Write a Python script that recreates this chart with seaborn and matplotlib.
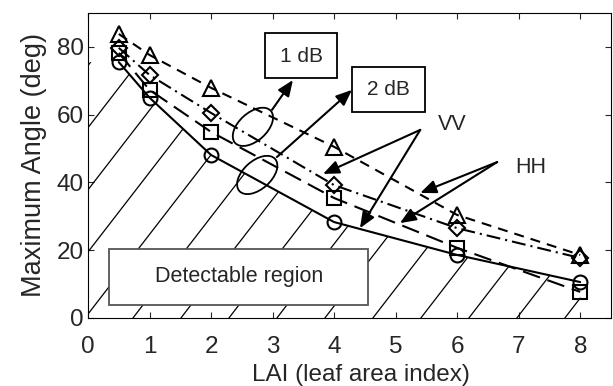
import numpy as np
import pandas as pd
import matplotlib
matplotlib.use("Agg")
import matplotlib.pyplot as plt
import matplotlib.transforms as mtransforms
from matplotlib.patches import Ellipse, Rectangle, Polygon
import seaborn as sns

# data
lai = [0.5, 1, 2, 4, 6, 8]
circle_vals = [75.5, 65.0, 48.1, 28.3, 18.6, 10.6]     # solid
square_vals = [78.2, 67.3, 54.9, 35.4, 20.7, 7.7]      # long dash
diamond_vals = [79.7, 71.7, 60.5, 39.2, 26.5, 17.7]    # dash-dot
triangle_vals = [83.8, 77.6, 67.9, 50.5, 30.4, 18.6]   # short dash
series_names = ["circle", "square", "diamond", "triangle"]
x_ticks = [0, 1, 2, 3, 4, 5, 6, 7, 8]
y_ticks = [0, 20, 40, 60, 80]

sns.set_theme(style="ticks")
plt.rcParams['font.family'] = ['Liberation Sans', 'DejaVu Sans']

df = pd.DataFrame({
    "LAI": lai * 4,
    "angle": circle_vals + square_vals + diamond_vals + triangle_vals,
    "series": sum([[n] * len(lai) for n in series_names], []),
})

fig = plt.figure(figsize=(6.13, 3.86), dpi=100)
ax = fig.add_axes([0.1436, 0.1762, 0.8531, 0.7902])

sns.lineplot(
    data=df, x="LAI", y="angle", style="series", ax=ax,
    color="black", linewidth=1.5, legend=False,
    markers={"circle": "o", "square": "s", "diamond": "D", "triangle": "^"},
    dashes={"circle": "", "square": (8.6, 3.8), "diamond": (6.7, 2.4, 1, 2.4),
            "triangle": (4.8, 3.4)},
    markersize=10, markerfacecolor="none", markeredgecolor="black",
    markeredgewidth=1.5, zorder=4,
)
for line, name in zip(ax.lines, series_names):
    if name == "diamond":
        line.set_markersize(8)
    if name == "triangle":
        line.set_markersize(11)

ax.set_xlim(0, 8.5)
ax.set_ylim(0, 90)
ax.set_xticks(x_ticks)
ax.set_yticks(y_ticks)
ax.tick_params(direction="in", length=4, width=0.8, top=True, right=True,
               labelsize=17.5)
ax.tick_params(axis="x", pad=13)
ax.tick_params(axis="y", pad=3)
for sp in ax.spines.values():
    sp.set_linewidth(0.8)
    sp.set_color("black")
ax.set_xlabel("LAI (leaf area index)", fontsize=17.5, va="baseline")
ax.xaxis.set_label_coords(0.522, -0.207)
ax.set_ylabel("Maximum Angle (deg)", fontsize=19.5, labelpad=7)

# hatched detectable region under the solid curve
poly = Polygon(list(zip([0] + lai + [8, 0], [circle_vals[0]] + circle_vals + [0, 0])),
               closed=True, facecolor="none", edgecolor="none")
ax.add_patch(poly)
slope = 23.5
for b in np.arange(-0.05 - 0.78 * 4, 8.5, 0.78):
    xs = np.array([b, b + 4.0])
    hl, = ax.plot(xs, (xs - b) * slope, color="black", lw=0.9, zorder=2)
    hl.set_clip_path(poly)

# text boxes
box_kw = dict(facecolor="white", linewidth=1.3, zorder=3)
ax.add_patch(Rectangle((0.34, 3.8), 4.21, 16.6, edgecolor="#555555", **box_kw))
ax.text(2.45, 12.1, "Detectable region", fontsize=15.5, ha="center", va="center", zorder=5)
ax.add_patch(Rectangle((2.88, 70.8), 1.17, 13.3, edgecolor="black", **box_kw))
ax.text(3.47, 77.3, "1 dB", fontsize=15, ha="center", va="center", zorder=5)
ax.add_patch(Rectangle((4.29, 60.8), 1.19, 13.3, edgecolor="black", **box_kw))
ax.text(4.89, 67.4, "2 dB", fontsize=15, ha="center", va="center", zorder=5)
ax.text(5.92, 57.2, "VV", fontsize=15.5, ha="center", va="center")
ax.text(7.20, 44.3, "HH", fontsize=15.5, ha="center", va="center")

# ellipses (size in inches so they are not distorted by the axes scaling)
for cx, cy in [(2.68, 56.4), (2.75, 42.2)]:
    tr = fig.dpi_scale_trans + mtransforms.ScaledTranslation(cx, cy, ax.transData)
    ax.add_patch(Ellipse((0, 0), 0.48, 0.28, angle=42, transform=tr,
                         facecolor="none", edgecolor="black", lw=1.3, zorder=5))

arrow_kw = dict(arrowstyle="-|>,head_length=0.6,head_width=0.25", color="black",
                lw=1.5, shrinkA=0, shrinkB=0, mutation_scale=16)
arrows = [
    ((2.99, 61.4), (3.33, 70.2)),
    ((3.07, 47.5), (4.29, 67.3)),
    ((5.40, 55.5), (3.82, 42.5)),
    ((5.40, 55.5), (4.42, 26.5)),
    ((6.65, 46.0), (5.40, 36.9)),
    ((6.65, 46.0), (5.07, 28.0)),
]
for start, end in arrows:
    ax.annotate("", xy=end, xytext=start, arrowprops=arrow_kw, zorder=6)

fig.savefig("out.png", dpi=100)
